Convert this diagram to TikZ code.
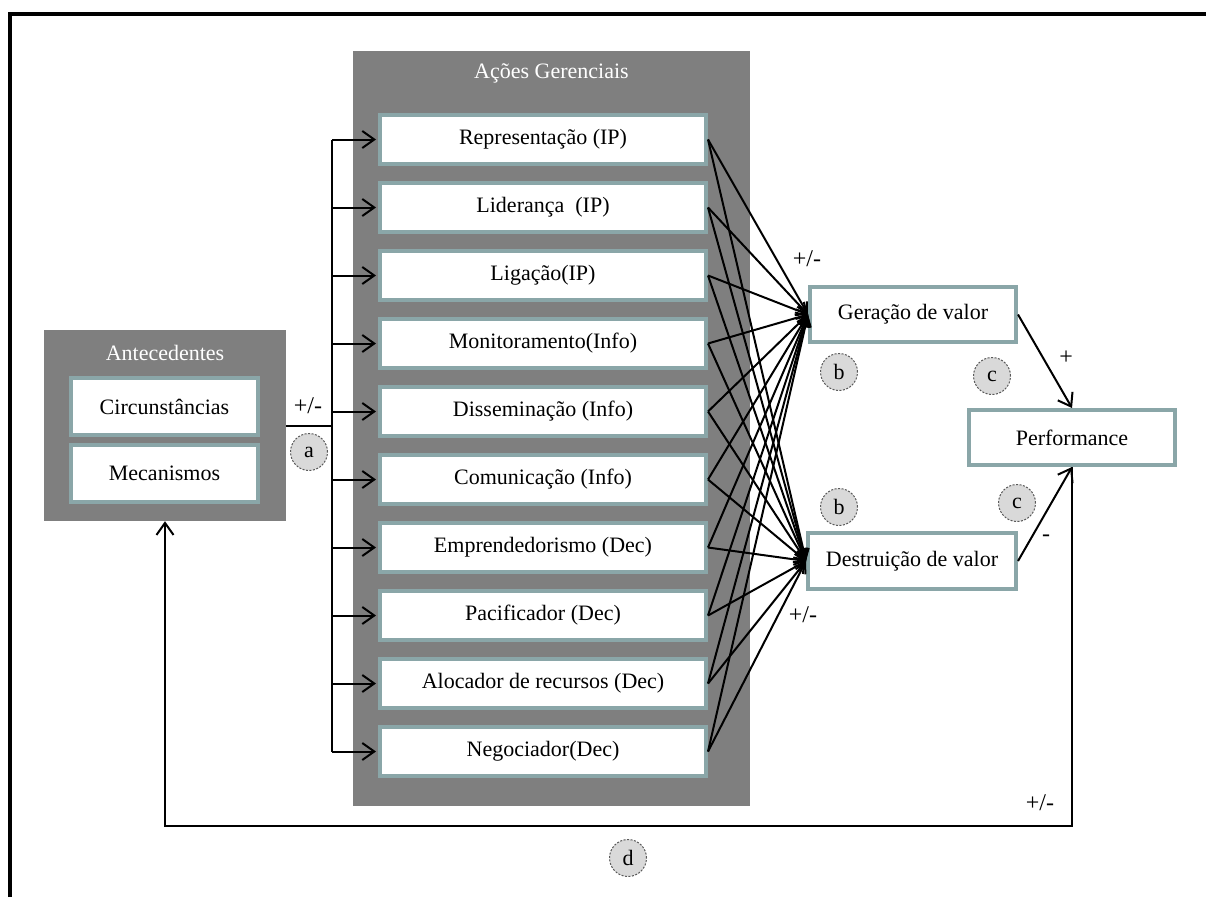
\documentclass[tikz,border=0pt]{standalone}
\usepackage{fontspec}
\setmainfont{Liberation Serif}
\usetikzlibrary{arrows.meta}
\definecolor{boxgray}{HTML}{7F7F7F}
\definecolor{edgeteal}{HTML}{8AA6A8}
\definecolor{circfill}{HTML}{D9D9D9}
\definecolor{circedge}{HTML}{595959}
\begin{document}
\begin{tikzpicture}[x=1pt,y=-1pt,
  panel/.style={fill=boxgray, draw=none, inner sep=0pt},
  paneltitle/.style={text=white, font=\fontsize{22}{26}\selectfont},
  itembox/.style={draw=edgeteal, line width=4pt, fill=white, inner sep=0pt, font=\fontsize{22}{26}\selectfont},
  conn/.style={line width=2pt, line join=miter, -{Straight Barb[length=12pt,width=17pt]}},
  fan/.style={line width=2pt, -{Straight Barb[length=10pt,width=11pt]}},
  plain/.style={line width=2pt},
  sign/.style={font=\fontsize{24}{28}\selectfont, inner sep=0pt},
  tag/.style={circle, fill=circfill, draw=circedge, dash pattern=on 2pt off 1.5pt, line width=1pt, minimum size=37pt, inner sep=0pt, font=\fontsize{22}{26}\selectfont}
]
\useasboundingbox (0,0) rectangle (1206,897);
\draw[line width=4pt] (10,897) -- (10,14) -- (1206,14);

% Antecedentes
\node[panel, minimum width=242pt, minimum height=191pt] (ant) at (165,425.5) {};
\node[paneltitle] (antt) at (165,353) {Antecedentes};
\node[itembox, minimum width=187pt, minimum height=57pt] (circ) at (164.5,406.5) {Circunstâncias};
\node[itembox, minimum width=187pt, minimum height=57pt] (mec) at (164.5,473.5) {Mecanismos};

% Acoes Gerenciais
\node[panel, minimum width=397pt, minimum height=755pt] (acoes) at (551.5,428.5) {};
\node[paneltitle] (acoest) at (551.5,73) {Ações Gerenciais};
\foreach \t [count=\i] in {Representação (IP), Liderança\ \ (IP), Ligação(IP), Monitoramento(Info), Disseminação (Info), Comunicação (Info), Emprendedorismo (Dec), Pacificador (Dec), Alocador de recursos (Dec), Negociador(Dec)}
  \node[itembox, minimum width=326pt, minimum height=49pt] (act\i) at (543,{139.5+68*(\i-1)}) {\t};

% right side
\node[itembox, minimum width=206pt, minimum height=55pt] (ger) at (913,314.5) {Geração de valor};
\node[itembox, minimum width=208pt, minimum height=56pt] (des) at (912,561) {Destruição de valor};
\node[itembox, minimum width=206pt, minimum height=55pt] (perf) at (1072,437.5) {Performance};

% bus
\coordinate (bus) at (332,425.5);
\coordinate (btop) at (332,139.5);
\coordinate (bbot) at (332,751.5);
\draw[plain] (ant.east) -- (bus);
\draw[plain] (btop) -- (bbot);
\foreach \i in {1,...,10}
  \draw[conn, shorten >=2pt] (act\i.west -| bus) -- (act\i.west);

% fan
\foreach \i in {1,...,10} {
  \draw[fan] (act\i.east) -- (ger.west);
  \draw[fan] (act\i.east) -- (des.west);
}

\draw[conn] (ger.east) -- (perf.north);
\draw[conn] (des.east) -- (perf.south);
\coordinate (fbr) at (1072,826);
\coordinate (fbl) at (165,826);
\draw[conn] (perf.south) -- (fbr) -- (fbl) -- (ant.south);

% signs
\node[sign] (s1) at (308,406) {+/-};
\node[sign] (s2) at (807,259) {+/-};
\node[sign] (s3) at (803,615) {+/-};
\node[sign] (s4) at (1040,803) {+/-};
\node[sign] (s5) at (1066,358) {+};
\node[sign] (s6) at (1046,538) {-};

% tags
\node[tag] (ta) at (309,452) {a};
\node[tag] (tb1) at (839,372) {b};
\node[tag] (tb2) at (839,507) {b};
\node[tag] (tc1) at (992,376) {c};
\node[tag] (tc2) at (1017,503) {c};
\node[tag] (td) at (628,858) {d};
\end{tikzpicture}
\end{document}
